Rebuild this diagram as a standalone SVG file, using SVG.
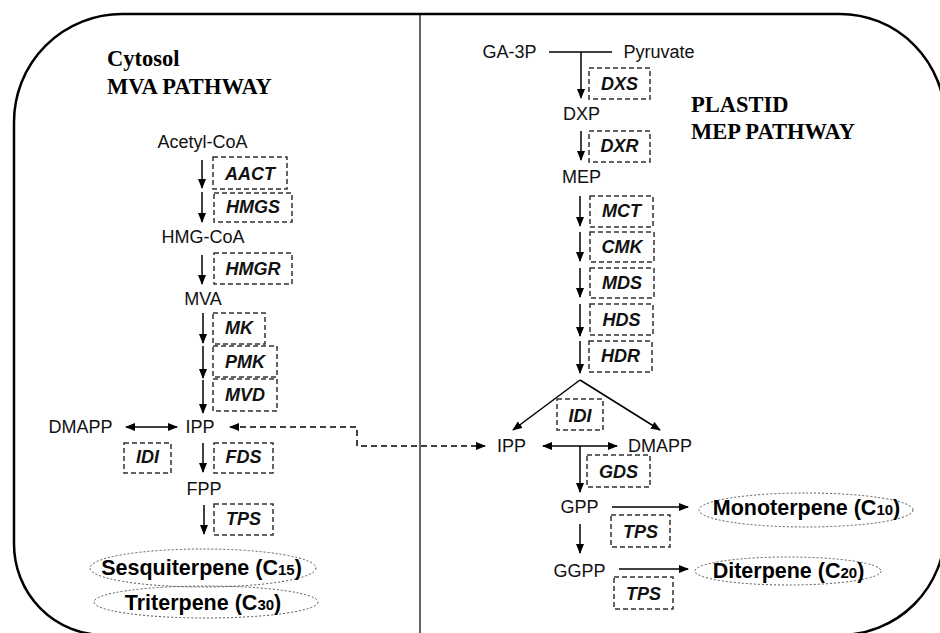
<svg xmlns="http://www.w3.org/2000/svg" width="940" height="633" viewBox="0 0 940 633">
<defs>
<marker id="ah" markerUnits="userSpaceOnUse" markerWidth="10" markerHeight="8" refX="9" refY="4" orient="auto-start-reverse">
<path d="M0,0 L10,4 L0,8 z" fill="#000"/>
</marker>
</defs>
<style>
.frame{fill:none;stroke:#000;stroke-width:2.5}
.div{fill:none;stroke:#000;stroke-width:1.2}
.title{font-family:"Liberation Serif","Times New Roman",serif;font-weight:bold;font-size:22.5px;fill:#000}
.lbl{font-family:"Liberation Sans",Arial,sans-serif;font-size:18px;fill:#111;text-anchor:middle}
.enz{font-family:"Liberation Sans",Arial,sans-serif;font-size:18px;font-weight:bold;font-style:italic;fill:#111;text-anchor:middle}
.prod{font-family:"Liberation Sans",Arial,sans-serif;font-size:21.5px;font-weight:bold;fill:#000;text-anchor:middle}
.sub{font-size:15px}
.box{fill:none;stroke:#333;stroke-width:1.5;stroke-dasharray:5 3}
.ell{fill:none;stroke:#555;stroke-width:1;stroke-dasharray:2 2}
.arr{fill:none;stroke:#000;stroke-width:1.5;marker-end:url(#ah)}
.dbl{fill:none;stroke:#000;stroke-width:1.5;marker-end:url(#ah);marker-start:url(#ah)}
.dsh{fill:none;stroke:#000;stroke-width:1.5;stroke-dasharray:6 4;marker-end:url(#ah);marker-start:url(#ah)}
.ln{fill:none;stroke:#000;stroke-width:1.5}
</style>
<rect width="940" height="633" fill="#fff"/>
<path class="frame" d="M14,122 A108,108 0 0 1 122,14 L840,14 A105,106 0 0 1 945,120 L945,530 A105,105 0 0 1 840,635 L104,635 A90,91 0 0 1 14,544 Z"/>
<line class="div" x1="420" y1="14" x2="420" y2="633"/>
<text class="title" x="107" y="66">Cytosol</text>
<text class="title" x="107" y="94">MVA PATHWAY</text>
<text class="title" x="691" y="112">PLASTID</text>
<text class="title" x="691" y="139">MEP PATHWAY</text>

<g id="connectors">
<line class="arr" x1="202" y1="160" x2="202" y2="188"/>
<line class="arr" x1="202" y1="192" x2="202" y2="222"/>
<line class="arr" x1="202" y1="255" x2="202" y2="284"/>
<line class="arr" x1="203" y1="313" x2="203" y2="343"/>
<line class="arr" x1="203" y1="346" x2="203" y2="378"/>
<line class="arr" x1="203" y1="380" x2="203" y2="413"/>
<line class="arr" x1="203" y1="443" x2="203" y2="472"/>
<line class="arr" x1="204" y1="505" x2="204" y2="534"/>
<line class="dbl" x1="126" y1="427" x2="177" y2="427"/>
<path class="dsh" d="M230,427 L357,427 L357,446 L485,446"/>
<line class="ln" x1="549" y1="52" x2="612" y2="52"/>
<line class="arr" x1="581" y1="52" x2="581" y2="98"/>
<line class="arr" x1="581" y1="131" x2="581" y2="160"/>
<line class="arr" x1="580" y1="196" x2="580" y2="226"/>
<line class="arr" x1="580" y1="232" x2="580" y2="261"/>
<line class="arr" x1="580" y1="268" x2="580" y2="297"/>
<line class="arr" x1="580" y1="304" x2="580" y2="336"/>
<line class="arr" x1="580" y1="341" x2="580" y2="373"/>
<line class="arr" x1="580" y1="380" x2="513" y2="430"/>
<line class="arr" x1="580" y1="380" x2="660" y2="430"/>
<line class="dbl" x1="543" y1="446" x2="617" y2="446"/>
<line class="arr" x1="580" y1="446" x2="580" y2="492"/>
<line class="arr" x1="612" y1="507" x2="688" y2="507"/>
<line class="arr" x1="580" y1="524" x2="580" y2="553"/>
<line class="arr" x1="619" y1="569" x2="688" y2="569"/>
</g>

<g id="acetylcoa"><text class="lbl" x="202.5" y="148">Acetyl-CoA</text></g>
<g id="aact"><rect class="box" x="213" y="157" width="74" height="32"/><text class="enz" x="250" y="180">AACT</text></g>
<g id="hmgs"><rect class="box" x="214" y="193" width="78" height="29"/><text class="enz" x="253" y="213">HMGS</text></g>
<g id="hmgcoa"><text class="lbl" x="203" y="243">HMG-CoA</text></g>
<g id="hmgr"><rect class="box" x="214" y="253" width="78" height="31"/><text class="enz" x="253" y="275">HMGR</text></g>
<g id="mva"><text class="lbl" x="203" y="305">MVA</text></g>
<g id="mk"><rect class="box" x="213" y="313" width="52" height="31"/><text class="enz" x="239" y="334">MK</text></g>
<g id="pmk"><rect class="box" x="213" y="346" width="64" height="31"/><text class="enz" x="245" y="368">PMK</text></g>
<g id="mvd"><rect class="box" x="213" y="379" width="64" height="32"/><text class="enz" x="245" y="401">MVD</text></g>
<g id="dmapp-c"><text class="lbl" x="80.5" y="433">DMAPP</text></g>
<g id="ipp-c"><text class="lbl" x="200" y="433">IPP</text></g>
<g id="idi-c"><rect class="box" x="124" y="443" width="47" height="30"/><text class="enz" x="147.5" y="463">IDI</text></g>
<g id="fds"><rect class="box" x="214" y="443" width="59" height="30"/><text class="enz" x="243.5" y="463">FDS</text></g>
<g id="fpp"><text class="lbl" x="204" y="495">FPP</text></g>
<g id="tps-c"><rect class="box" x="214" y="504" width="59" height="31"/><text class="enz" x="243.5" y="525">TPS</text></g>
<g id="sesqui"><ellipse class="ell" cx="203" cy="568" rx="113" ry="19"/><text class="prod" x="201.5" y="575">Sesquiterpene (C<tspan class="sub">15</tspan>)</text></g>
<g id="triterpene"><ellipse class="ell" cx="206" cy="602" rx="112" ry="16"/><text class="prod" x="203" y="610">Triterpene (C<tspan class="sub">30</tspan>)</text></g>

<g id="ga3p"><text class="lbl" x="509.5" y="58">GA-3P</text></g>
<g id="pyruvate"><text class="lbl" x="659" y="58">Pyruvate</text></g>
<g id="dxs"><rect class="box" x="589" y="68" width="61" height="31"/><text class="enz" x="619.5" y="90">DXS</text></g>
<g id="dxp"><text class="lbl" x="581.5" y="120">DXP</text></g>
<g id="dxr"><rect class="box" x="589" y="131" width="61" height="31"/><text class="enz" x="619.5" y="152">DXR</text></g>
<g id="mep"><text class="lbl" x="581.5" y="183">MEP</text></g>
<g id="mct"><rect class="box" x="590" y="196" width="63" height="31"/><text class="enz" x="621.5" y="217">MCT</text></g>
<g id="cmk"><rect class="box" x="590" y="232" width="64" height="30"/><text class="enz" x="622" y="253">CMK</text></g>
<g id="mds"><rect class="box" x="590" y="268" width="64" height="30"/><text class="enz" x="622" y="289">MDS</text></g>
<g id="hds"><rect class="box" x="590" y="304" width="63" height="31"/><text class="enz" x="621.5" y="326">HDS</text></g>
<g id="hdr"><rect class="box" x="589" y="341" width="63" height="31"/><text class="enz" x="620.5" y="362">HDR</text></g>
<g id="idi-p"><rect class="box" x="557" y="399" width="46" height="31"/><text class="enz" x="580" y="422">IDI</text></g>
<g id="ipp-p"><text class="lbl" x="511.5" y="452">IPP</text></g>
<g id="dmapp-p"><text class="lbl" x="660" y="452">DMAPP</text></g>
<g id="gds"><rect class="box" x="587" y="455" width="63" height="32"/><text class="enz" x="618.5" y="478">GDS</text></g>
<g id="gpp"><text class="lbl" x="579.5" y="513">GPP</text></g>
<g id="tps-p1"><rect class="box" x="611" y="515" width="59" height="32"/><text class="enz" x="640.5" y="538">TPS</text></g>
<g id="mono"><ellipse class="ell" cx="806" cy="510" rx="107" ry="17"/><text class="prod" x="806.5" y="515">Monoterpene (C<tspan class="sub">10</tspan>)</text></g>
<g id="ggpp"><text class="lbl" x="579.5" y="577">GGPP</text></g>
<g id="tps-p2"><rect class="box" x="614" y="577" width="59" height="32"/><text class="enz" x="643.5" y="600">TPS</text></g>
<g id="di"><ellipse class="ell" cx="788" cy="571" rx="93" ry="14"/><text class="prod" x="788.5" y="578">Diterpene (C<tspan class="sub">20</tspan>)</text></g>
</svg>
